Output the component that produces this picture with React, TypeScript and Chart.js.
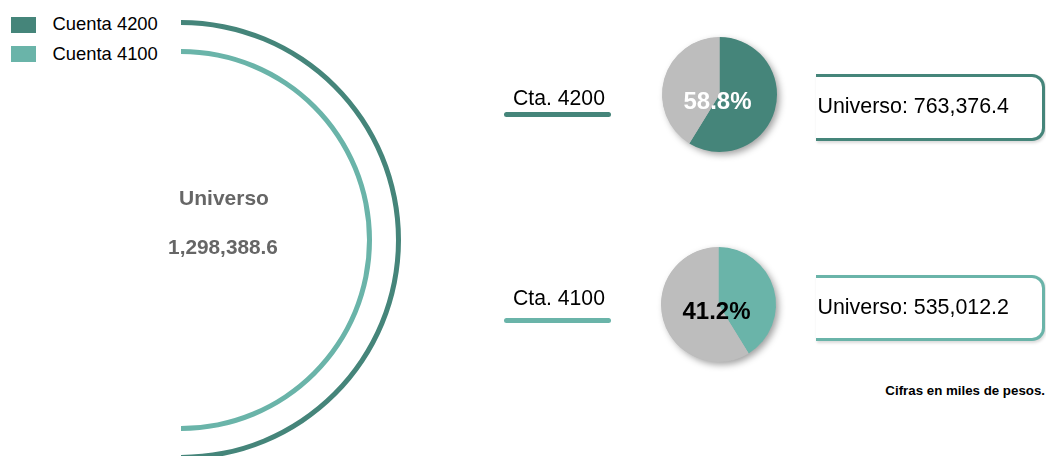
import React, { useEffect, useRef } from "react";
import { Chart, registerables } from "chart.js";

Chart.register(...registerables);

// ---- data ----
const accountLabels = ["Cuenta 4200", "Cuenta 4100"];
const shortLabels = ["Cta. 4200", "Cta. 4100"];
const accountValues = [763376.4, 535012.2];
const universeTotal = 1298388.6;
const sharePercents = [58.8, 41.2];
const restPercents = [41.2, 58.8];
const noteText = "Cifras en miles de pesos.";

// ---- style ----
const COLORS = ["#45857a", "#6ab4a9"];
const GRAY = "#bdbdbd";
const FONT = "'Liberation Sans', Arial, Helvetica, sans-serif";

const fmt = (v: number) =>
  v.toLocaleString("en-US", { minimumFractionDigits: 1, maximumFractionDigits: 1 });

function ArcsChart() {
  const ref = useRef<HTMLCanvasElement>(null);
  useEffect(() => {
    const chart = new Chart(ref.current!, {
      type: "doughnut",
      data: {
        labels: [accountLabels[0]],
        datasets: [
          { data: [accountValues[0]], backgroundColor: [COLORS[0]], weight: 5, borderWidth: 0 } as any,
          { data: [universeTotal], backgroundColor: ["rgba(0,0,0,0)"], weight: 24, borderWidth: 0 } as any,
          { data: [accountValues[1]], backgroundColor: [COLORS[1]], weight: 5, borderWidth: 0 } as any,
        ],
      },
      options: {
        responsive: false,
        animation: false,
        events: [],
        rotation: 0,
        circumference: 180,
        cutout: (186 / 220) * 100 + "%",
        layout: { padding: 0 },
        plugins: { legend: { display: false }, tooltip: { enabled: false } },
      } as any,
    });
    return () => chart.destroy();
  }, []);
  return (
    <canvas
      ref={ref}
      width={220}
      height={440}
      style={{ position: "absolute", left: 181, top: 20, width: 220, height: 440 }}
    />
  );
}

const pieDecor = {
  id: "pieDecor",
  beforeDatasetsDraw(chart: any) {
    const arc = chart.getDatasetMeta(0).data[0];
    if (!arc) return;
    const { x, y, outerRadius } = arc.getProps(["x", "y", "outerRadius"], true);
    const ctx = chart.ctx;
    ctx.save();
    ctx.shadowColor = "rgba(0,0,0,0.38)";
    ctx.shadowBlur = 7;
    ctx.shadowOffsetX = 3;
    ctx.shadowOffsetY = 3;
    ctx.beginPath();
    ctx.arc(x, y, outerRadius - 0.5, 0, Math.PI * 2);
    ctx.fillStyle = GRAY;
    ctx.fill();
    ctx.restore();
  },
  afterDatasetsDraw(chart: any, _args: any, opts: any) {
    const arc = chart.getDatasetMeta(0).data[0];
    if (!arc) return;
    const { x, y } = arc.getProps(["x", "y"], true);
    const ctx = chart.ctx;
    ctx.save();
    ctx.font = "bold 24px " + FONT;
    ctx.fillStyle = opts.color;
    ctx.textAlign = "center";
    ctx.textBaseline = "alphabetic";
    ctx.fillText(opts.text, x - 2, y + 14.5);
    ctx.restore();
  },
};

function PieChart(props: { idx: number; left: number; top: number; labelColor: string }) {
  const ref = useRef<HTMLCanvasElement>(null);
  const { idx, left, top, labelColor } = props;
  useEffect(() => {
    const chart = new Chart(ref.current!, {
      type: "pie",
      data: {
        labels: [shortLabels[idx], "Resto"],
        datasets: [
          {
            data: [sharePercents[idx], restPercents[idx]],
            backgroundColor: [COLORS[idx], GRAY],
            borderWidth: 0,
          },
        ],
      },
      options: {
        responsive: false,
        animation: false,
        events: [],
        rotation: 0,
        layout: { padding: 10 },
        plugins: {
          legend: { display: false },
          tooltip: { enabled: false },
          pieDecor: { text: sharePercents[idx].toFixed(1) + "%", color: labelColor },
        } as any,
      },
      plugins: [pieDecor],
    });
    return () => chart.destroy();
  }, [idx, labelColor]);
  return (
    <canvas
      ref={ref}
      width={135}
      height={135}
      style={{ position: "absolute", left, top, width: 135, height: 135 }}
    />
  );
}

function Text(props: {
  x: number;
  baseline: number;
  size: number;
  bold?: boolean;
  color?: string;
  align?: "left" | "center" | "right";
  children: React.ReactNode;
}) {
  const { x, baseline, size, bold, color, align = "left", children } = props;
  const top = baseline - 0.8465 * size;
  const style: React.CSSProperties = {
    position: "absolute",
    top,
    fontSize: size,
    lineHeight: size + "px",
    fontWeight: bold ? "bold" : "normal",
    color: color || "#000",
    whiteSpace: "nowrap",
    fontFamily: FONT,
  };
  if (align === "left") style.left = x;
  else if (align === "right") style.right = 1046 - x;
  else {
    style.left = x - 200;
    style.width = 400;
    style.textAlign = "center";
  }
  return <div style={style}>{children}</div>;
}

function InfoBox(props: { top: number; height: number; color: string; text: string; baseline: number }) {
  const { top, height, color, text, baseline } = props;
  return (
    <>
      <div
        style={{
          position: "absolute",
          left: 816,
          top,
          width: 229,
          height,
          boxSizing: "border-box",
          borderTop: `3px solid ${color}`,
          borderBottom: `3px solid ${color}`,
          borderRight: `3px solid ${color}`,
          borderRadius: "0 13px 13px 0",
          boxShadow: "1px 2px 3px rgba(0,0,0,0.15)",
          background: "#fff",
        }}
      />
      <Text x={817.5} baseline={baseline} size={21.4}>
        {text}
      </Text>
    </>
  );
}

export default function App() {
  return (
    <div
      style={{
        position: "absolute",
        left: 0,
        top: 0,
        width: 1046,
        height: 456,
        overflow: "hidden",
        background: "#fff",
        fontFamily: FONT,
      }}
    >
      {/* legend */}
      {accountLabels.map((lab, i) => (
        <React.Fragment key={lab}>
          <div
            style={{
              position: "absolute",
              left: 11,
              top: 17 + i * 29,
              width: 25,
              height: 16,
              background: COLORS[i],
            }}
          />
          <Text x={52.5} baseline={31 + i * 29.5} size={18.4}>
            {lab}
          </Text>
        </React.Fragment>
      ))}

      <ArcsChart />

      <Text x={224} baseline={205} size={21} bold color="#666666" align="center">
        Universo
      </Text>
      <Text x={223} baseline={255} size={20.8} bold color="#666666" align="center">
        {fmt(universeTotal)}
      </Text>

      {/* Cta labels + underlines */}
      {shortLabels.map((lab, i) => (
        <React.Fragment key={lab}>
          <Text x={559} baseline={104.5 + i * 200} size={21.2} align="center">
            {lab}
          </Text>
          <div
            style={{
              position: "absolute",
              left: 504,
              top: 112 + i * 206,
              width: 107,
              height: 5,
              borderRadius: 3,
              background: COLORS[i],
            }}
          />
        </React.Fragment>
      ))}

      <PieChart idx={0} left={652} top={27} labelColor="#ffffff" />
      <PieChart idx={1} left={651} top={237} labelColor="#000000" />

      <InfoBox top={74} height={67} color={COLORS[0]} text={"Universo: " + fmt(accountValues[0])} baseline={114} />
      <InfoBox top={275} height={66} color={COLORS[1]} text={"Universo: " + fmt(accountValues[1])} baseline={315} />

      <Text x={1045} baseline={395} size={13.3} bold align="right">
        {noteText}
      </Text>
    </div>
  );
}
